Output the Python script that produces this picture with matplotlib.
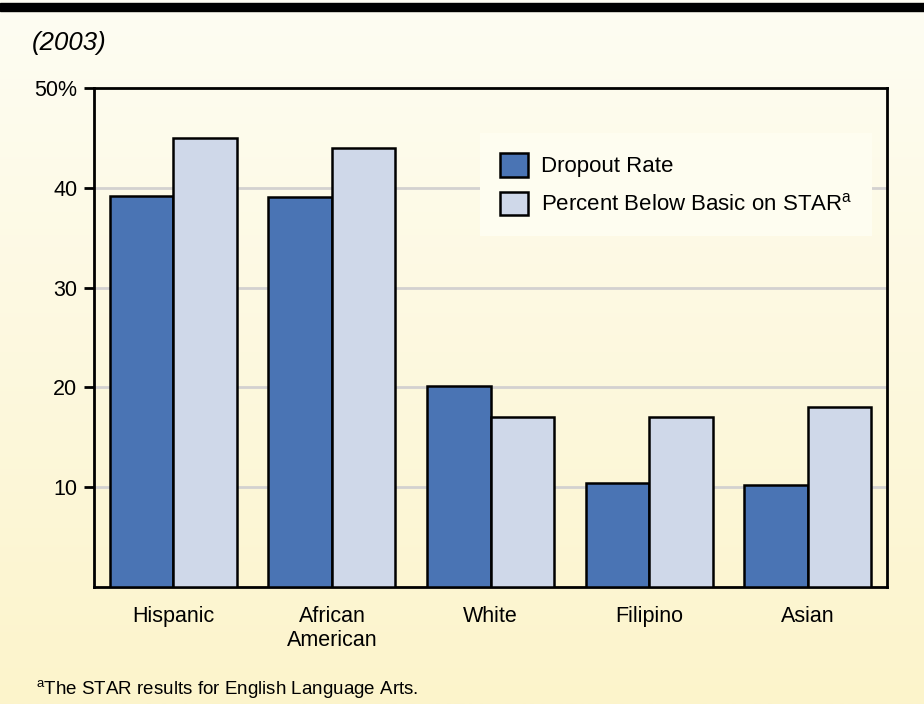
import numpy as np
import matplotlib
matplotlib.use("Agg")
import matplotlib.pyplot as plt
from matplotlib.colors import LinearSegmentedColormap
from matplotlib.patches import Patch

plt.rcParams['font.family'] = ['Liberation Sans', 'DejaVu Sans']
plt.rcParams['mathtext.fontset'] = 'custom'
plt.rcParams['mathtext.rm'] = 'Liberation Sans'
plt.rcParams['mathtext.it'] = 'Liberation Sans:italic'

categories = ["Hispanic", "African\nAmerican", "White", "Filipino", "Asian"]
dropout_rate = [39.2, 39.1, 20.1, 10.4, 10.2]
below_basic = [45, 44, 17, 17, 18]
series_labels = ["Dropout Rate", "Percent Below Basic on STAR$^{\\mathrm{a}}$"]
yticks = [10, 20, 30, 40, 50]
ytick_labels = ["10", "20", "30", "40", "50%"]

W, H = 924, 704
fig = plt.figure(figsize=(W / 100, H / 100), dpi=100)

# gradient background
bg = fig.add_axes([0, 0, 1, 1], zorder=-10)
cmap = LinearSegmentedColormap.from_list("bg", ["#FEFDF3", "#FCF4CB"])
grad = np.linspace(0, 1, 256).reshape(-1, 1)
bg.imshow(grad, aspect="auto", cmap=cmap, extent=[0, 1, 0, 1], origin="upper")
bg.set_axis_off()
bg.add_patch(plt.Rectangle((0, 1 - 11 / H), 1, 8 / H, color="black", transform=bg.transAxes))
bg.set_xlim(0, 1); bg.set_ylim(0, 1)

ax = fig.add_axes([94 / W, 1 - 587 / H, (887 - 94) / W, (587 - 88) / H])
ax.set_facecolor("none")

x = np.arange(len(categories))
w = 0.4
ax.bar(x - w / 2, dropout_rate, width=w, color="#4A74B4", edgecolor="black", linewidth=1.8, zorder=3)
ax.bar(x + w / 2, below_basic, width=w, color="#CFD8E9", edgecolor="black", linewidth=1.8, zorder=3)

ax.set_xlim(-0.5, len(categories) - 0.5)
ax.set_ylim(0, 50)
ax.set_yticks(yticks)
ax.set_yticklabels(ytick_labels, fontsize=15.5)
ax.set_xticks(x)
ax.set_xticklabels(categories, fontsize=15.5, linespacing=1.15)
ax.tick_params(axis="x", length=0, pad=14)
ax.tick_params(axis="y", length=7, width=2, direction="out", pad=5)
for yv in [10, 20, 30, 40]:
    ax.axhline(yv, color="#D3D1D0", linewidth=2, zorder=1)
for s in ax.spines.values():
    s.set_linewidth(2)
    s.set_color("black")
ax.spines["top"].set_zorder(4)

handles = [Patch(facecolor="#4A74B4", edgecolor="black", linewidth=1.8),
           Patch(facecolor="#CFD8E9", edgecolor="black", linewidth=1.8)]
leg = ax.legend(handles, series_labels, loc="upper left",
                bbox_to_anchor=((480 - 94) / (887 - 94), 1 - (133 - 88) / (587 - 88)),
                fontsize=16, frameon=True, facecolor="#FEFDF0", edgecolor="none",
                framealpha=1, fancybox=False, handlelength=1.25, handleheight=1.25,
                borderpad=0.9, labelspacing=0.65, handletextpad=0.6, borderaxespad=0)
leg.set_zorder(5)

fig.text(32 / W, 1 - 43 / H, "(2003)", fontsize=18.5, style="italic", va="center", ha="left")
fig.text(36 / W, 1 - 689 / H, "$^{\\mathrm{a}}$The STAR results for English Language Arts.",
         fontsize=13.5, va="center", ha="left")

fig.savefig("out.png", dpi=100)
